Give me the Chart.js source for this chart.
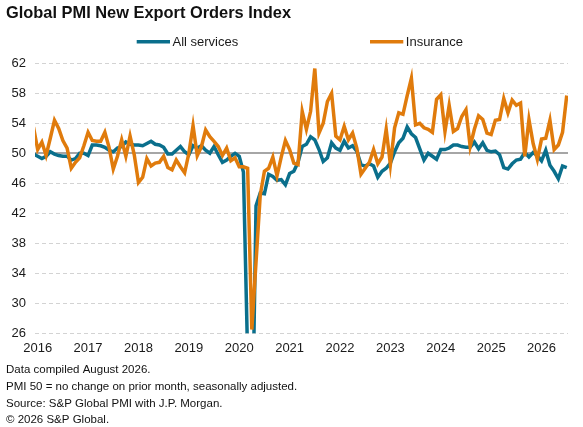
<!DOCTYPE html>
<html>
<head>
<meta charset="utf-8">
<script src="https://cdn.jsdelivr.net/npm/chart.js@4.4.1/dist/chart.umd.min.js"></script>
<style>
html,body{margin:0;padding:0;background:#ffffff;}
canvas{display:block;}
</style>
</head>
<body>
<canvas id="c" width="583" height="427" style="width:583px;height:427px"></canvas>
<script>
// Monthly index values, Dec 2015 .. Jul 2026
const allServices = [
  49.9,
  49.6, 49.3, 49.6, 50.2, 49.9, 49.7, 49.6, 49.6, 49.1, 49.3, 50.0, 50.0,
  49.7, 51.1, 51.1, 51.0, 50.8, 50.4, 50.2, 50.7, 50.9, 51.5, 51.2, 51.1,
  51.1, 51.0, 51.3, 51.6, 51.2, 51.1, 50.8, 49.9, 49.9, 50.4, 50.9, 50.2,
  49.8, 51.0, 50.7, 51.0, 50.4, 50.0, 50.9, 49.8, 48.8, 49.1, 49.6, 50.0,
  49.6, 47.5, 23.0, 8.0, 43.0, 44.7, 44.6, 47.2, 46.9, 46.4, 46.5, 45.8,
  47.3, 47.6, 48.8, 50.9, 51.2, 52.2, 51.8, 50.5, 48.9, 49.4, 51.4, 50.7,
  50.4, 51.6, 50.7, 51.0, 50.3, 48.5, 48.3, 48.6, 48.3, 46.8, 47.6, 48.0,
  48.7, 50.2, 51.4, 52.0, 53.5, 52.6, 52.1, 50.6, 49.1, 50.0, 49.6, 49.2,
  50.5, 50.5, 50.7, 51.1, 51.1, 50.9, 50.8, 50.8, 51.5, 50.6, 51.4, 50.4,
  50.2, 50.3, 49.8, 48.1, 47.9, 48.6, 49.1, 49.2, 50.1, 49.5, 50.1, 49.7,
  49.0, 50.4, 48.4, 47.6, 46.6, 48.3, 48.1
];
const insurance = [
  53.5,
  50.5, 51.5, 49.7, 52.0, 54.4, 53.3, 51.7, 50.7, 48.0, 48.8, 49.4, 51.0,
  52.8, 51.7, 51.6, 51.6, 52.8, 50.8, 47.9, 49.6, 51.8, 49.6, 52.3, 49.8,
  46.1, 46.8, 49.3, 48.3, 48.7, 48.8, 49.6, 48.1, 47.8, 49.1, 48.2, 47.4,
  50.0, 53.7, 49.7, 50.9, 53.1, 52.2, 51.6, 50.9, 49.7, 50.7, 49.0, 49.4,
  48.2, 48.2, 48.0, 26.5, 35.5, 44.4, 47.6, 48.0, 49.5, 47.0, 49.5, 51.7,
  50.5, 48.7, 48.5, 55.6, 53.2, 55.6, 61.3, 52.7, 54.0, 56.9, 58.0, 52.3,
  51.8, 53.6, 51.8, 52.7, 50.7, 47.2, 48.0, 48.8, 50.5, 48.6, 49.5, 53.2,
  48.5, 53.4, 55.4, 55.2, 57.7, 60.0, 53.8, 54.0, 53.4, 53.2, 52.8, 57.2,
  57.8, 52.9, 56.4, 52.9, 53.3, 54.9, 55.8, 50.9, 53.2, 55.0, 54.5, 52.7,
  52.5, 54.4, 54.5, 57.3, 55.4, 57.1, 56.4, 56.7, 49.6, 54.5, 51.3, 49.2,
  51.9, 52.0, 54.4, 50.5, 51.1, 52.8, 57.7
];
const yearLabels = ['2016','2017','2018','2019','2020','2021','2022','2023','2024','2025','2026'];
const yTicks = [26, 30, 34, 38, 42, 46, 50, 54, 58, 62];
const seriesNames = ['All services', 'Insurance'];
const footerLines = [
  'Data compiled August 2026.',
  'PMI 50 = no change on prior month, seasonally adjusted.',
  'Source: S&P Global PMI with J.P. Morgan.',
  '\u00A9 2026 S&P Global.'
];

const MON = ['Jan','Feb','Mar','Apr','May','Jun','Jul','Aug','Sep','Oct','Nov','Dec'];
// categories: month labels; x position = months since Jan 2016
const categories = allServices.map((_, i) => {
  const k = 2015 * 12 + 11 + i;
  return MON[k % 12] + ' ' + Math.floor(k / 12);
});
const xPos = categories.map((_, i) => i - 1);

const TEAL = '#0a6f8c';
const ORANGE = '#e07b0c';
const FONT = '"Liberation Sans", Arial, Helvetica, sans-serif';

const legendPlugin = {
  id: 'customLegend',
  afterDraw(chart) {
    const ctx = chart.ctx;
    const y = 41.7;
    const items = [
      {x: 136.7, color: chart.data.datasets[1].borderColor, text: chart.data.datasets[1].label},
      {x: 370.0, color: chart.data.datasets[0].borderColor, text: chart.data.datasets[0].label}
    ];
    ctx.save();
    ctx.font = '13px ' + FONT;
    ctx.textBaseline = 'middle';
    ctx.textAlign = 'left';
    items.forEach(it => {
      ctx.strokeStyle = it.color;
      ctx.lineWidth = 3.4;
      ctx.lineCap = 'butt';
      ctx.beginPath();
      ctx.moveTo(it.x, y);
      ctx.lineTo(it.x + 33.3, y);
      ctx.stroke();
      ctx.fillStyle = '#1a1a1a';
      ctx.fillText(it.text, it.x + 35.8, y + 0.5);
    });
    ctx.restore();
  }
};

new Chart(document.getElementById('c'), {
  type: 'line',
  data: {
    datasets: [
      {
        label: seriesNames[1],
        data: insurance.map((v, i) => ({x: xPos[i], y: v})),
        borderColor: ORANGE,
        backgroundColor: ORANGE,
        borderWidth: 3.5,
        pointRadius: 0,
        tension: 0,
        clip: 0,
        order: 0
      },
      {
        label: seriesNames[0],
        data: allServices.map((v, i) => ({x: xPos[i], y: v})),
        borderColor: TEAL,
        backgroundColor: TEAL,
        borderWidth: 3.5,
        pointRadius: 0,
        tension: 0,
        clip: 0,
        order: 1
      }
    ]
  },
  options: {
    responsive: false,
    animation: false,
    layout: {padding: {left: 6, right: 15, top: 0, bottom: 0}},
    plugins: {
      legend: {display: false},
      tooltip: {enabled: false},
      title: {
        display: true,
        text: 'Global PMI New Export Orders Index',
        align: 'start',
        color: '#111111',
        font: {family: FONT, size: 16.4, weight: 'bold', lineHeight: 1.2},
        padding: {top: 3.6, bottom: 40.0}
      },
      subtitle: {
        display: true,
        position: 'bottom',
        text: footerLines,
        align: 'start',
        color: '#111111',
        font: {family: FONT, size: 11.5, weight: 'normal', lineHeight: '16.7px'},
        padding: {top: 0, bottom: -1.45}
      }
    },
    scales: {
      x: {
        type: 'linear',
        min: -0.64,
        max: 126.3,
        afterBuildTicks: axis => { axis.ticks = yearLabels.map((_, i) => ({value: i * 12})); },
        afterFit: s => { s.height = 28.35; },
        grid: {display: false, drawTicks: false},
        border: {display: false},
        ticks: {
          autoSkip: false,
          maxRotation: 0,
          padding: 7,
          color: '#1a1a1a',
          font: {family: FONT, size: 13},
          callback: v => yearLabels[Math.round(v / 12)]
        }
      },
      y: {
        min: 26,
        max: 62,
        afterBuildTicks: axis => { axis.ticks = yTicks.map(v => ({value: v})); },
        afterFit: s => { s.width = 29; },
        grid: {
          drawTicks: false,
          color: c => (c.tick && c.tick.value === 50) ? '#a6a6a6' : '#d3d3d3',
          lineWidth: c => (c.tick && c.tick.value === 50) ? 2 : 1
        },
        border: {
          display: false,
          dash: c => (c.tick && c.tick.value === 50) ? [] : [4, 3]
        },
        ticks: {
          padding: 9,
          color: '#1a1a1a',
          font: {family: FONT, size: 13}
        }
      }
    }
  },
  plugins: [legendPlugin]
});
</script>
</body>
</html>
